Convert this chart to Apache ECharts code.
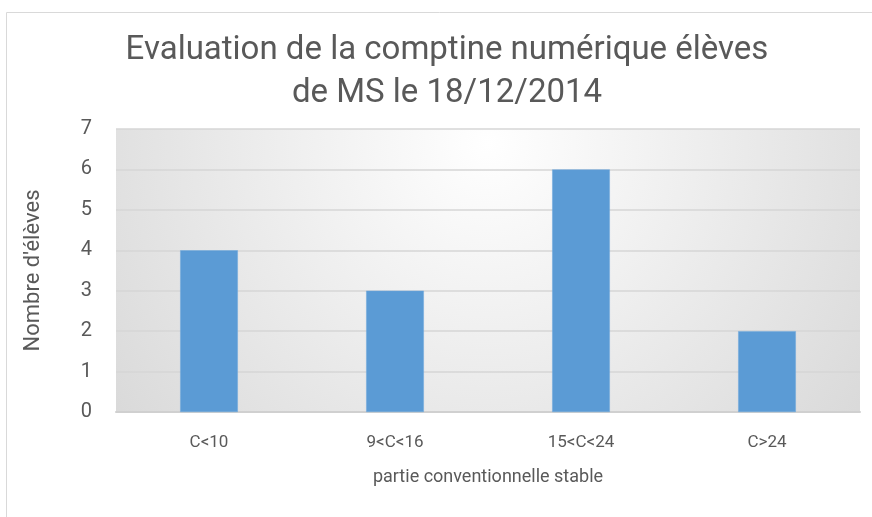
<!DOCTYPE html>
<html>
<head>
<meta charset="utf-8">
<script src="https://cdn.jsdelivr.net/npm/echarts@6/dist/echarts.min.js"></script>
<style>
  html, body { margin: 0; padding: 0; background: #fff; }
  #chart { width: 872px; height: 517px; }
</style>
</head>
<body>
<div id="chart"></div>
<script>
// données
var categories = ['C<10', '9<C<16', '15<C<24', 'C>24'];
var eleves = [4, 3, 6, 2];
var yTicks = [0, 1, 2, 3, 4, 5, 6, 7];

var myChart = echarts.init(document.getElementById('chart'));
var police = 'Roboto, "Open Sans", sans-serif';
var gris = '#595959';

var option = {
  animation: false,
  // cadre du graphique
  graphic: [{
    type: 'rect',
    shape: { x: 6.5, y: 12.5, width: 900, height: 600 },
    style: { fill: 'none', stroke: '#d9d9d9', lineWidth: 1 },
    z: -10
  }],
  title: {
    text: 'Evaluation de la comptine numérique élèves\nde MS le 18/12/2014',
    left: 442,
    textAlign: 'center', // centre du titre un peu à droite du milieu
    top: 24,
    textStyle: {
      fontFamily: police,
      fontWeight: 'normal',
      fontSize: 33,
      lineHeight: 43,
      color: gris
    }
  },
  grid: {
    left: 116,
    right: 12,
    top: 129,
    bottom: 105,
    show: true,
    borderWidth: 0,
    backgroundColor: {
      type: 'radial',
      x: 0.5, y: 0.05, r: 1.65,
      colorStops: [
        { offset: 0, color: '#ffffff' },
        { offset: 1, color: '#d9d9d9' }
      ]
    }
  },
  xAxis: {
    type: 'category',
    data: categories,
    name: 'partie conventionnelle stable',
    nameLocation: 'middle',
    nameGap: 56,
    nameTextStyle: { fontFamily: police, fontSize: 18, color: gris },
    axisLine: { lineStyle: { color: '#d0d0d0', width: 2 } },
    axisTick: { show: false },
    axisLabel: { fontFamily: police, fontSize: 17, color: gris, margin: 22 }
  },
  yAxis: {
    type: 'value',
    min: yTicks[0],
    max: yTicks[yTicks.length - 1],
    interval: 1,
    name: "Nombre d'élèves",
    nameLocation: 'middle',
    nameGap: 72,
    nameTextStyle: { fontFamily: police, fontSize: 22, color: gris },
    axisLine: { show: false },
    axisTick: { show: false },
    axisLabel: { fontFamily: police, fontSize: 20, color: gris, margin: 24 },
    splitLine: { lineStyle: { color: '#d6d6d6', width: 1.5 } }
  },
  series: [{
    type: 'bar',
    data: eleves,
    barWidth: '31%',
    itemStyle: { color: '#5b9bd5', borderColor: '#6fa8dc', borderWidth: 0.5 }
  }]
};

myChart.setOption(option);
</script>
</body>
</html>
